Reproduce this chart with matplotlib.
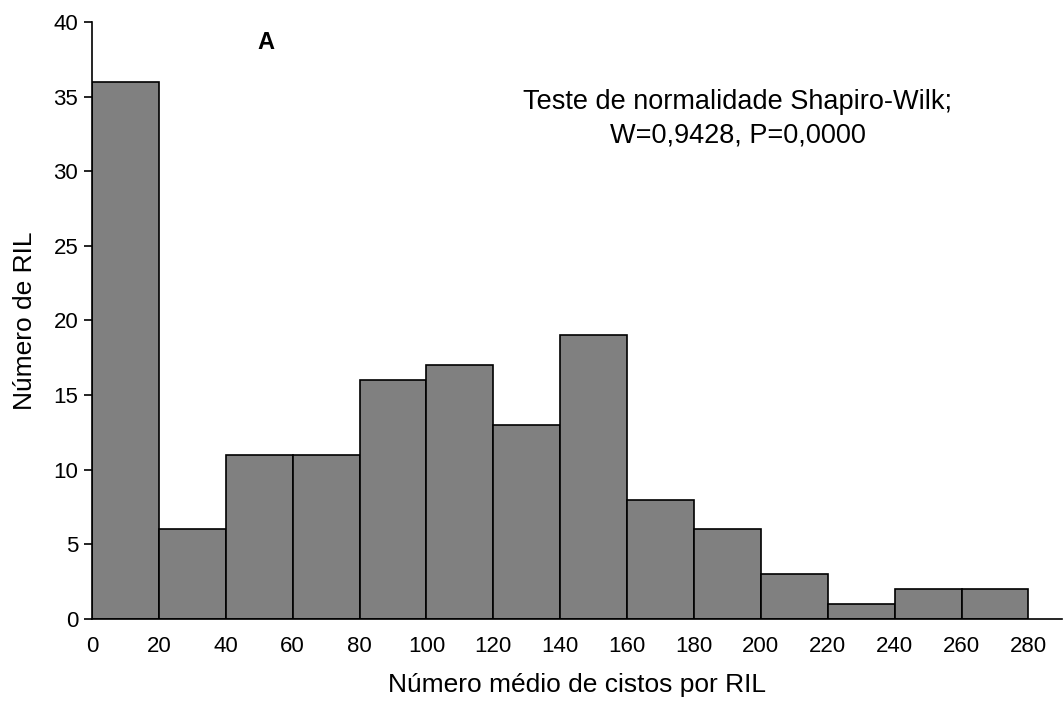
import matplotlib.pyplot as plt
import numpy as np

plt.rcParams['font.family'] = ['Liberation Sans', 'DejaVu Sans']

# bin edges (cysts per RIL) and number of RILs per bin
bin_edges = np.arange(0, 300, 20)
counts = [36, 6, 11, 11, 16, 17, 13, 19, 8, 6, 3, 1, 2, 2]
x_ticks = list(range(0, 300, 20))
y_ticks = list(range(0, 45, 5))

fig = plt.figure(figsize=(10.64, 7.09), dpi=100)
ax = fig.add_axes([0.0865, 0.127, 0.9115, 0.842])

ax.bar(bin_edges[:-1], counts, width=20, align='edge', color='#808080',
       edgecolor='black', linewidth=1.2)

ax.set_xlim(0, 290)
ax.set_ylim(0, 40)
ax.set_xticks(x_ticks)
ax.set_yticks(y_ticks)
ax.tick_params(axis='x', length=0, pad=12, labelsize=16)
ax.tick_params(axis='y', length=6, width=1.2, labelsize=16, direction='out', pad=4)
ax.spines['top'].set_visible(False)
ax.spines['right'].set_visible(False)
ax.spines['left'].set_linewidth(1.2)
ax.spines['bottom'].set_linewidth(1.2)

ax.set_xlabel('Número médio de cistos por RIL', fontsize=19, labelpad=12)
ax.set_ylabel('Número de RIL', fontsize=19, labelpad=12)

ax.text(52, 38.6, 'A', fontsize=17, fontweight='bold', ha='center', va='center')
ax.text(193, 33.5, 'Teste de normalidade Shapiro-Wilk;\nW=0,9428, P=0,0000',
        fontsize=19.5, ha='center', va='center', linespacing=1.35)

plt.savefig('out.png', dpi=100)
